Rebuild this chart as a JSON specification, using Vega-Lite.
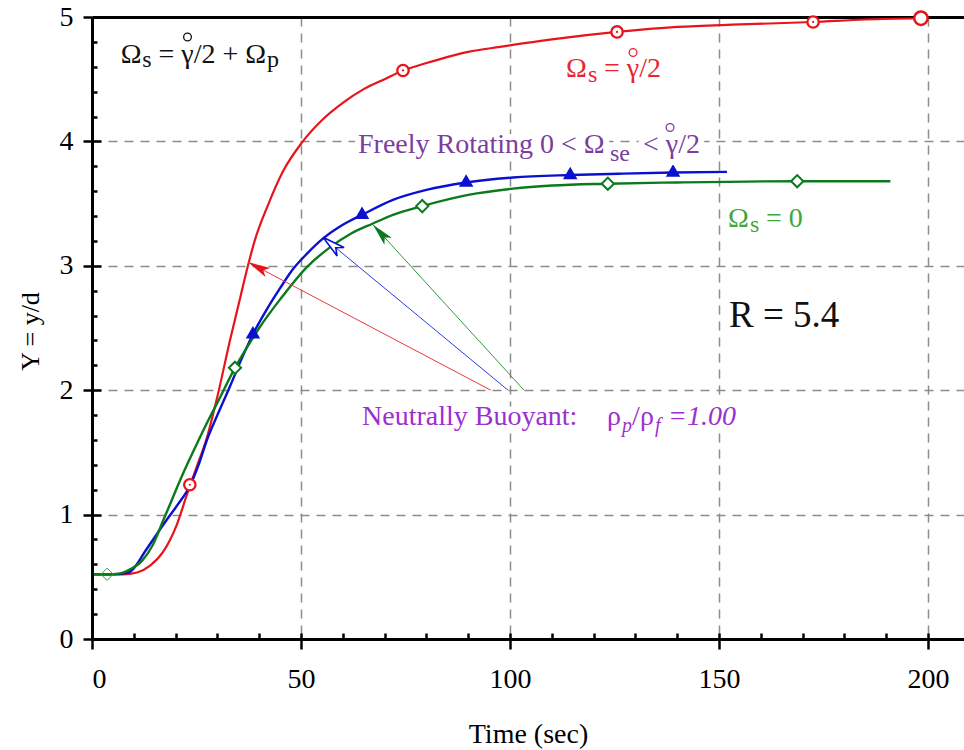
{
"$schema":"https://vega.github.io/schema/vega-lite/v6.json",
"width":872,"height":622,
"autosize":"none",
"padding":{"left":92,"top":17,"right":0,"bottom":111},
"background":"white",
"config":{"view":{"stroke":null},"font":"Liberation Serif","axis":{"labelFont":"Liberation Serif","titleFont":"Liberation Serif"},"text":{"font":"Liberation Serif"}},
"datasets":{
"curves":[
{"s":"red","t":0,"y":0.52},{"s":"red","t":5,"y":0.52},{"s":"red","t":7.4,"y":0.52},{"s":"red","t":10.8,"y":0.535},{"s":"red","t":13.9,"y":0.59},{"s":"red","t":17,"y":0.7},{"s":"red","t":20.3,"y":0.92},{"s":"red","t":22.7,"y":1.16},{"s":"red","t":25,"y":1.38},{"s":"red","t":27.5,"y":1.62},{"s":"red","t":30,"y":1.95},{"s":"red","t":33,"y":2.4},{"s":"red","t":35.5,"y":2.75},{"s":"red","t":37.3,"y":3.0},{"s":"red","t":39,"y":3.21},{"s":"red","t":42,"y":3.48},{"s":"red","t":45.7,"y":3.76},{"s":"red","t":50.2,"y":3.99},{"s":"red","t":55.3,"y":4.18},{"s":"red","t":60,"y":4.31},{"s":"red","t":65,"y":4.42},{"s":"red","t":70,"y":4.5},{"s":"red","t":74.4,"y":4.57},{"s":"red","t":80,"y":4.63},{"s":"red","t":90,"y":4.72},{"s":"red","t":97.6,"y":4.76},{"s":"red","t":110,"y":4.82},{"s":"red","t":125.6,"y":4.88},{"s":"red","t":140,"y":4.92},{"s":"red","t":155,"y":4.94},{"s":"red","t":172.5,"y":4.96},{"s":"red","t":185,"y":4.98},{"s":"red","t":198.3,"y":4.99},
{"s":"blue","t":0,"y":0.52},{"s":"blue","t":5,"y":0.52},{"s":"blue","t":8,"y":0.53},{"s":"blue","t":9.1,"y":0.54},{"s":"blue","t":13,"y":0.72},{"s":"blue","t":17.5,"y":0.94},{"s":"blue","t":20.5,"y":1.08},{"s":"blue","t":23.4,"y":1.23},{"s":"blue","t":25.5,"y":1.4},{"s":"blue","t":27.5,"y":1.6},{"s":"blue","t":30,"y":1.8},{"s":"blue","t":33,"y":2.03},{"s":"blue","t":35.5,"y":2.23},{"s":"blue","t":38.5,"y":2.45},{"s":"blue","t":42,"y":2.66},{"s":"blue","t":45,"y":2.82},{"s":"blue","t":48,"y":2.97},{"s":"blue","t":51.5,"y":3.1},{"s":"blue","t":55.3,"y":3.22},{"s":"blue","t":60,"y":3.33},{"s":"blue","t":64.6,"y":3.41},{"s":"blue","t":72,"y":3.53},{"s":"blue","t":80,"y":3.61},{"s":"blue","t":89.5,"y":3.67},{"s":"blue","t":100.7,"y":3.71},{"s":"blue","t":114.4,"y":3.73},{"s":"blue","t":126,"y":3.74},{"s":"blue","t":139,"y":3.75},{"s":"blue","t":151.9,"y":3.755},
{"s":"green","t":0,"y":0.52},{"s":"green","t":3.6,"y":0.52},{"s":"green","t":7,"y":0.53},{"s":"green","t":9.1,"y":0.56},{"s":"green","t":12,"y":0.63},{"s":"green","t":14.6,"y":0.76},{"s":"green","t":17,"y":0.95},{"s":"green","t":19,"y":1.11},{"s":"green","t":21,"y":1.27},{"s":"green","t":23,"y":1.42},{"s":"green","t":25.1,"y":1.57},{"s":"green","t":28,"y":1.77},{"s":"green","t":30,"y":1.9},{"s":"green","t":34.2,"y":2.18},{"s":"green","t":37,"y":2.34},{"s":"green","t":40,"y":2.5},{"s":"green","t":45,"y":2.73},{"s":"green","t":51.4,"y":2.99},{"s":"green","t":57,"y":3.15},{"s":"green","t":62,"y":3.26},{"s":"green","t":67.2,"y":3.34},{"s":"green","t":72,"y":3.41},{"s":"green","t":79,"y":3.48},{"s":"green","t":90,"y":3.57},{"s":"green","t":100.7,"y":3.62},{"s":"green","t":110,"y":3.645},{"s":"green","t":123.4,"y":3.66},{"s":"green","t":140,"y":3.67},{"s":"green","t":168.7,"y":3.68},{"s":"green","t":191,"y":3.68}
],
"markers":[
{"s":"red","t":23.4,"y":1.24},{"s":"red","t":74.4,"y":4.57},{"s":"red","t":125.6,"y":4.88},{"s":"red","t":172.5,"y":4.96},{"s":"red","t":198.3,"y":4.99},
{"s":"blue","t":38.5,"y":2.45},{"s":"blue","t":64.6,"y":3.41},{"s":"blue","t":89.5,"y":3.67},{"s":"blue","t":114.4,"y":3.73},{"s":"blue","t":139,"y":3.75},
{"s":"green","t":3.6,"y":0.52},{"s":"green","t":34.2,"y":2.18},{"s":"green","t":79,"y":3.48},{"s":"green","t":123.4,"y":3.66},{"s":"green","t":168.7,"y":3.68}
],
"arrows":[
{"a":"red","t":95.4,"y":2.0},{"a":"red","t":37.32,"y":3.03},
{"a":"blue","t":99.52,"y":2.0},{"a":"blue","t":55.26,"y":3.23},
{"a":"green","t":103.35,"y":2.0},{"a":"green","t":67.22,"y":3.33}
],
"tips":[
{"a":"red","t":37.32,"y":3.03},{"a":"blue","t":55.26,"y":3.23},{"a":"green","t":67.22,"y":3.33}
],
"labels":[
{"g":"black","r":"main","t":6.87,"y":4.633,"text":"Ω"},
{"g":"black","r":"sub","t":12.03,"y":4.6,"text":"s"},
{"g":"black","r":"main","t":15.91,"y":4.633,"text":"= γ/2 + Ω"},
{"g":"black","r":"sub","t":41.87,"y":4.6,"text":"p"},
{"g":"red","r":"main","t":113.4,"y":4.52,"text":"Ω"},
{"g":"red","r":"sub","t":118.66,"y":4.48,"text":"s"},
{"g":"red","r":"main","t":122.49,"y":4.52,"text":"= γ/2"},
{"g":"purple","r":"main","t":63.64,"y":3.907,"text":"Freely Rotating 0 < Ω"},
{"g":"purple","r":"sub","t":123.92,"y":3.845,"text":"se"},
{"g":"purple","r":"main","t":131.82,"y":3.907,"text":"< γ/2"},
{"g":"green","r":"main","t":152.15,"y":3.314,"text":"Ω"},
{"g":"green","r":"sub","t":157.42,"y":3.274,"text":"s"},
{"g":"green","r":"main","t":161.24,"y":3.314,"text":"= 0"},
{"g":"black","r":"big","t":152.39,"y":2.51,"text":"R = 5.4"},
{"g":"violet","r":"main","t":64.59,"y":1.72,"text":"Neutrally Buoyant:"},
{"g":"violet","r":"main","t":123.21,"y":1.72,"text":"ρ"},
{"g":"violet","r":"isub","t":126.79,"y":1.664,"text":"p"},
{"g":"violet","r":"main","t":129.19,"y":1.72,"text":"/"},
{"g":"violet","r":"main","t":131.1,"y":1.72,"text":"ρ"},
{"g":"violet","r":"isub","t":134.69,"y":1.664,"text":"f"},
{"g":"violet","r":"imain","t":137.8,"y":1.72,"text":"=1.00"}
],
"rings":[
{"g":"black","t":22.85,"y":4.839},{"g":"red","t":129.43,"y":4.715},{"g":"purple","t":138.28,"y":4.112}
]
},
"layer":[
{"data":{"name":"curves"},"transform":[{"filter":"datum.s=='red'"}],
 "mark":{"type":"line","color":"#E8141B","strokeWidth":2.2,"interpolate":"monotone"},
 "encoding":{
  "x":{"field":"t","type":"quantitative","scale":{"domain":[0,208.6],"nice":false,"zero":false},
   "axis":{"orient":"bottom","values":[0,50,100,150,200],"grid":false,"tickSize":10,"tickWidth":2.5,"tickColor":"black","domainColor":"black","domainWidth":3,"labelFontSize":28,"labelColor":"black","labelPadding":16,"title":"Time (sec)","titleFontSize":28,"titleFontWeight":"normal","titleColor":"black","titleY":103,"titleBaseline":"alphabetic","zindex":1}},
  "y":{"field":"y","type":"quantitative","scale":{"domain":[0,5],"nice":false,"zero":false},
   "axis":{"orient":"left","values":[0,1,2,3,4,5],"grid":false,"tickSize":9,"tickWidth":2.5,"tickColor":"black","domainColor":"black","domainWidth":3,"labelFontSize":28,"labelColor":"black","labelPadding":10,"title":"Y = y/d","titleFontSize":26,"titleFontWeight":"normal","titleColor":"black","titleX":-54,"titleY":314,"titleAngle":-90,"titleAlign":"center","titleBaseline":"alphabetic","zindex":1}}
 }},
{"data":{"name":"curves"},"transform":[{"filter":"datum.s=='blue'"}],
 "mark":{"type":"line","color":"#0A10D0","strokeWidth":2.4,"interpolate":"monotone"},
 "encoding":{
  "x":{"field":"t","type":"quantitative","scale":{"domain":[0,208.6],"nice":false,"zero":false},
   "axis":{"orient":"bottom","values":[0,10,20,30,40,50,60,70,80,90,100,110,120,130,140,150,160,170,180,190,200],"grid":false,"tickSize":-6,"tickWidth":2.5,"tickColor":"black","labels":false,"domain":false,"title":null,"zindex":1}},
  "y":{"field":"y","type":"quantitative","scale":{"domain":[0,5],"nice":false,"zero":false},
   "axis":{"orient":"left","values":[0.2,0.4,0.6,0.8,1.2,1.4,1.6,1.8,2.2,2.4,2.6,2.8,3.2,3.4,3.6,3.8,4.2,4.4,4.6,4.8],"grid":false,"tickSize":-5,"tickWidth":2.5,"tickColor":"black","labels":false,"domain":false,"title":null,"zindex":1}}
 }},
{"data":{"name":"curves"},"transform":[{"filter":"datum.s=='green'"}],
 "mark":{"type":"line","color":"#0B7A1C","strokeWidth":2.4,"interpolate":"monotone"},
 "encoding":{
  "x":{"field":"t","type":"quantitative","scale":{"domain":[0,208.6],"nice":false,"zero":false},
   "axis":{"orient":"bottom","values":[50,100,150,200],"grid":true,"gridDash":[9,7],"gridColor":"#8c8c8c","gridWidth":1.5,"ticks":false,"labels":false,"domain":false,"title":null,"zindex":0}},
  "y":{"field":"y","type":"quantitative","scale":{"domain":[0,5],"nice":false,"zero":false},
   "axis":{"orient":"left","values":[1,2,3,4],"grid":true,"gridDash":[9,7],"gridColor":"#8c8c8c","gridWidth":1.5,"ticks":true,"tickSize":-9,"tickWidth":2.5,"tickColor":"black","labels":false,"domain":false,"title":null,"zindex":0}}
 }},
{"data":{"name":"arrows"},
 "mark":{"type":"line","strokeWidth":1},
 "encoding":{
  "x":{"field":"t","type":"quantitative","scale":{"domain":[0,208.6],"nice":false,"zero":false},
   "axis":{"orient":"top","domain":true,"domainWidth":3,"domainColor":"black","ticks":false,"labels":false,"grid":false,"title":null,"zindex":0}},
  "y":{"field":"y","type":"quantitative","scale":{"domain":[0,5],"nice":false,"zero":false},"axis":null},
  "detail":{"field":"a"},
  "color":{"field":"a","type":"nominal","scale":{"domain":["red","blue","green"],"range":["#E83A3A","#2A3CE6","#2F9A3C"]},"legend":null}
 }},
{"data":{"name":"tips"},"transform":[{"filter":"datum.a=='red'"}],
 "mark":{"type":"point","shape":"M0,0L-0.45,2L0,1.55L0.45,2Z","filled":true,"color":"#E8141B","opacity":1,"size":500,"angle":297.8},
 "encoding":{"x":{"field":"t","type":"quantitative","scale":{"domain":[0,208.6],"nice":false,"zero":false},"axis":null},"y":{"field":"y","type":"quantitative","scale":{"domain":[0,5],"nice":false,"zero":false},"axis":null}}},
{"data":{"name":"tips"},"transform":[{"filter":"datum.a=='blue'"}],
 "mark":{"type":"point","shape":"M0,0L-0.48,2L0,1.45L0.48,2Z","filled":false,"fill":"white","fillOpacity":1,"stroke":"#0A10D0","strokeWidth":1.6,"opacity":1,"size":520,"angle":309.6},
 "encoding":{"x":{"field":"t","type":"quantitative","scale":{"domain":[0,208.6],"nice":false,"zero":false},"axis":null},"y":{"field":"y","type":"quantitative","scale":{"domain":[0,5],"nice":false,"zero":false},"axis":null}}},
{"data":{"name":"tips"},"transform":[{"filter":"datum.a=='green'"}],
 "mark":{"type":"point","shape":"M0,0L-0.45,2L0,1.55L0.45,2Z","filled":true,"color":"#0B7A1C","opacity":1,"size":500,"angle":317.5},
 "encoding":{"x":{"field":"t","type":"quantitative","scale":{"domain":[0,208.6],"nice":false,"zero":false},"axis":null},"y":{"field":"y","type":"quantitative","scale":{"domain":[0,5],"nice":false,"zero":false},"axis":null}}},
{"data":{"name":"markers"},"transform":[{"filter":"datum.s=='red' && datum.t<190"}],
 "mark":{"type":"point","shape":"circle","filled":false,"fill":"white","fillOpacity":1,"stroke":"#E8141B","strokeWidth":2.3,"opacity":1,"size":130},
 "encoding":{"x":{"field":"t","type":"quantitative","scale":{"domain":[0,208.6],"nice":false,"zero":false},"axis":null},"y":{"field":"y","type":"quantitative","scale":{"domain":[0,5],"nice":false,"zero":false},"axis":null}}},
{"data":{"name":"markers"},"transform":[{"filter":"datum.s=='red' && datum.t>190"}],
 "mark":{"type":"point","shape":"circle","filled":false,"fill":"white","fillOpacity":1,"stroke":"#E8141B","strokeWidth":2.5,"opacity":1,"size":180},
 "encoding":{"x":{"field":"t","type":"quantitative","scale":{"domain":[0,208.6],"nice":false,"zero":false},"axis":null},"y":{"field":"y","type":"quantitative","scale":{"domain":[0,5],"nice":false,"zero":false},"axis":null}}},
{"data":{"name":"markers"},"transform":[{"filter":"datum.s=='red' && datum.t<190"}],
 "mark":{"type":"point","shape":"circle","filled":true,"color":"#E8141B","opacity":1,"size":5},
 "encoding":{"x":{"field":"t","type":"quantitative","scale":{"domain":[0,208.6],"nice":false,"zero":false},"axis":null},"y":{"field":"y","type":"quantitative","scale":{"domain":[0,5],"nice":false,"zero":false},"axis":null}}},
{"data":{"name":"markers"},"transform":[{"filter":"datum.s=='blue'"}],
 "mark":{"type":"point","shape":"triangle-up","filled":true,"color":"#0A10D0","opacity":1,"size":210,"yOffset":-2},
 "encoding":{"x":{"field":"t","type":"quantitative","scale":{"domain":[0,208.6],"nice":false,"zero":false},"axis":null},"y":{"field":"y","type":"quantitative","scale":{"domain":[0,5],"nice":false,"zero":false},"axis":null}}},
{"data":{"name":"markers"},"transform":[{"filter":"datum.s=='green' && datum.t>10"}],
 "mark":{"type":"point","shape":"diamond","filled":false,"fill":"white","fillOpacity":1,"stroke":"#0B7A1C","strokeWidth":2,"opacity":1,"size":150},
 "encoding":{"x":{"field":"t","type":"quantitative","scale":{"domain":[0,208.6],"nice":false,"zero":false},"axis":null},"y":{"field":"y","type":"quantitative","scale":{"domain":[0,5],"nice":false,"zero":false},"axis":null}}},
{"data":{"name":"markers"},"transform":[{"filter":"datum.s=='green' && datum.t<10"}],
 "mark":{"type":"point","shape":"diamond","filled":false,"fill":"white","fillOpacity":0,"stroke":"#2F9A3C","strokeWidth":1,"opacity":1,"size":150},
 "encoding":{"x":{"field":"t","type":"quantitative","scale":{"domain":[0,208.6],"nice":false,"zero":false},"axis":null},"y":{"field":"y","type":"quantitative","scale":{"domain":[0,5],"nice":false,"zero":false},"axis":null}}},
{"data":{"name":"labels"},"transform":[{"filter":"datum.r=='main' && datum.g!='black'"}],
 "mark":{"type":"text","align":"left","baseline":"alphabetic","fontSize":28,"color":"white","stroke":"white","strokeWidth":12,"strokeJoin":"round"},
 "encoding":{"x":{"field":"t","type":"quantitative","scale":{"domain":[0,208.6],"nice":false,"zero":false},"axis":null},"y":{"field":"y","type":"quantitative","scale":{"domain":[0,5],"nice":false,"zero":false},"axis":null},"text":{"field":"text"}}},
{"data":{"name":"labels"},"transform":[{"filter":"datum.r=='sub' && datum.g!='black'"}],
 "mark":{"type":"text","align":"left","baseline":"alphabetic","fontSize":24,"color":"white","stroke":"white","strokeWidth":12,"strokeJoin":"round"},
 "encoding":{"x":{"field":"t","type":"quantitative","scale":{"domain":[0,208.6],"nice":false,"zero":false},"axis":null},"y":{"field":"y","type":"quantitative","scale":{"domain":[0,5],"nice":false,"zero":false},"axis":null},"text":{"field":"text"}}},
{"data":{"name":"labels"},"transform":[{"filter":"datum.r=='isub'"}],
 "mark":{"type":"text","align":"left","baseline":"alphabetic","fontSize":20,"fontStyle":"italic","color":"white","stroke":"white","strokeWidth":12,"strokeJoin":"round"},
 "encoding":{"x":{"field":"t","type":"quantitative","scale":{"domain":[0,208.6],"nice":false,"zero":false},"axis":null},"y":{"field":"y","type":"quantitative","scale":{"domain":[0,5],"nice":false,"zero":false},"axis":null},"text":{"field":"text"}}},
{"data":{"name":"labels"},"transform":[{"filter":"datum.r=='imain'"}],
 "mark":{"type":"text","align":"left","baseline":"alphabetic","fontSize":28,"fontStyle":"italic","color":"white","stroke":"white","strokeWidth":12,"strokeJoin":"round"},
 "encoding":{"x":{"field":"t","type":"quantitative","scale":{"domain":[0,208.6],"nice":false,"zero":false},"axis":null},"y":{"field":"y","type":"quantitative","scale":{"domain":[0,5],"nice":false,"zero":false},"axis":null},"text":{"field":"text"}}},
{"data":{"name":"labels"},"transform":[{"filter":"datum.r=='main'"}],
 "mark":{"type":"text","align":"left","baseline":"alphabetic","fontSize":28},
 "encoding":{"x":{"field":"t","type":"quantitative","scale":{"domain":[0,208.6],"nice":false,"zero":false},"axis":null},"y":{"field":"y","type":"quantitative","scale":{"domain":[0,5],"nice":false,"zero":false},"axis":null},"text":{"field":"text"},
  "color":{"field":"g","type":"nominal","scale":{"domain":["black","red","purple","green","violet"],"range":["#111111","#E8262E","#7A3E9D","#3EA83A","#9B30D0"]},"legend":null}}},
{"data":{"name":"labels"},"transform":[{"filter":"datum.r=='sub'"}],
 "mark":{"type":"text","align":"left","baseline":"alphabetic","fontSize":24},
 "encoding":{"x":{"field":"t","type":"quantitative","scale":{"domain":[0,208.6],"nice":false,"zero":false},"axis":null},"y":{"field":"y","type":"quantitative","scale":{"domain":[0,5],"nice":false,"zero":false},"axis":null},"text":{"field":"text"},
  "color":{"field":"g","type":"nominal","scale":{"domain":["black","red","purple","green","violet"],"range":["#111111","#E8262E","#7A3E9D","#3EA83A","#9B30D0"]},"legend":null}}},
{"data":{"name":"labels"},"transform":[{"filter":"datum.r=='isub'"}],
 "mark":{"type":"text","align":"left","baseline":"alphabetic","fontSize":20,"fontStyle":"italic","color":"#9B30D0"},
 "encoding":{"x":{"field":"t","type":"quantitative","scale":{"domain":[0,208.6],"nice":false,"zero":false},"axis":null},"y":{"field":"y","type":"quantitative","scale":{"domain":[0,5],"nice":false,"zero":false},"axis":null},"text":{"field":"text"}}},
{"data":{"name":"labels"},"transform":[{"filter":"datum.r=='imain'"}],
 "mark":{"type":"text","align":"left","baseline":"alphabetic","fontSize":28,"fontStyle":"italic","color":"#9B30D0"},
 "encoding":{"x":{"field":"t","type":"quantitative","scale":{"domain":[0,208.6],"nice":false,"zero":false},"axis":null},"y":{"field":"y","type":"quantitative","scale":{"domain":[0,5],"nice":false,"zero":false},"axis":null},"text":{"field":"text"}}},
{"data":{"name":"labels"},"transform":[{"filter":"datum.r=='big'"}],
 "mark":{"type":"text","align":"left","baseline":"alphabetic","fontSize":37,"color":"#111111"},
 "encoding":{"x":{"field":"t","type":"quantitative","scale":{"domain":[0,208.6],"nice":false,"zero":false},"axis":null},"y":{"field":"y","type":"quantitative","scale":{"domain":[0,5],"nice":false,"zero":false},"axis":null},"text":{"field":"text"}}},
{"data":{"name":"rings"},
 "mark":{"type":"point","shape":"circle","filled":false,"strokeWidth":1.3,"opacity":1,"size":60},
 "encoding":{"x":{"field":"t","type":"quantitative","scale":{"domain":[0,208.6],"nice":false,"zero":false},"axis":null},"y":{"field":"y","type":"quantitative","scale":{"domain":[0,5],"nice":false,"zero":false},"axis":null},
  "color":{"field":"g","type":"nominal","scale":{"domain":["black","red","purple"],"range":["#111111","#E8262E","#7A3E9D"]},"legend":null}}}
],
"resolve":{"axis":{"x":"independent","y":"independent"},"scale":{"color":"independent"}}
}
